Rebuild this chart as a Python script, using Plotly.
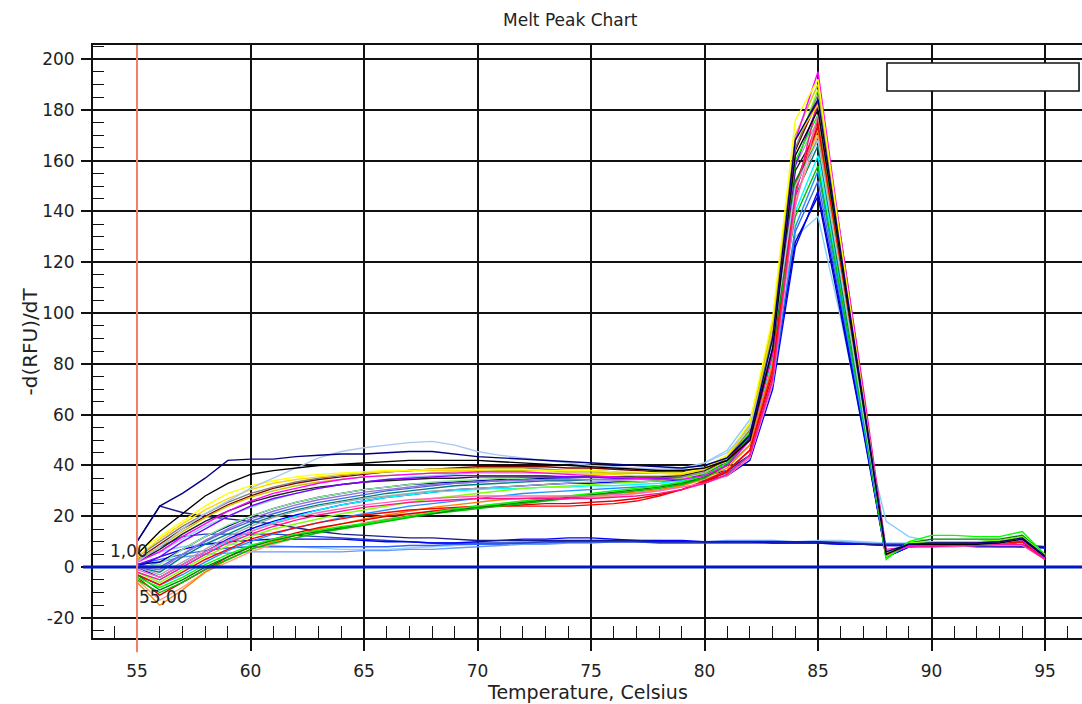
import plotly.graph_objects as go

# Temperatures (Celsius), one reading per degree
temperatures = list(range(55, 96))

# -d(RFU)/dT per well (55..95)
black_top = [5,14,21,28,33,36.5,38,39,40,40.5, 41,41.5,42,42,42,42,41.5,41,40.5,40, 39.5,39,38.5,38,38,39,42,50,86,162, 180,122,64,5,9,9,9,9,9.5,11, 4]
navy_top = [10,24,29,35,42,42.5,42.5,43.5,44,44.5, 44.5,45,45.5,45.5,44.5,43.5,43,42.5,42,41.5, 41,40.5,40,39.5,39,40,43,52,90,168, 184,124,64,6,9,9.5,9.5,9.5,10,11.5, 4.5]
lightblue_arc = [2,8,15,21,26,31,35,39,43,45.5, 47,48,49,49.5,48,45.5,44,43,42,41, 40,39.5,39,38.5,39,41,45,55,88,150, 168,115,60,6,9,9,9,9,9.5,11, 4]
navy_decline = [10,24,21.5,20,19,18,17,15.5,14,13, 12.5,12,11.5,11.5,11,10.5,10.5,10.5,10.5,10.5, 10.5,10.5,10.5,10,10,10,10,10,10,10, 10,9.5,9,8.5,8.5,8.5,8.5,8.5,8.5,8.5, 8]
low_1 = [0,4,7,9,10,10.5,11,11,11,11, 10.5,10,10,9.5,9.5,10,10.5,11,11,11.5, 11.5,11,10.5,10.5,10.5,10,10,10,9.5,9.5, 9.5,9,9,8.5,8.5,8.5,8.5,8,8,8, 7.5]
low_2 = [1,3,5,6.5,7.5,8,8,8,8,8, 8,8,8.5,8.5,9,9,9,9.5,9.5,10, 10,10,10,10,10,10,10,10,10,10, 10,9.5,9,9,9,9,9,8.5,8.5,8.5, 8]
low_3 = [-1,2,4,5,5.5,6,6,6,6,6, 6.5,6.5,7,7,7.5,8,8.5,9,9,9.5, 9.5,10,10,10,10,10,10.5,10.5,10.5,10, 10,10,9.5,9,8.5,8.5,8.5,8.5,8,8, 7.5]
low_4 = [2,8,12,13,13,13,13,12.5,12,11.5, 11,10.5,10,9.5,9.5,9.5,9.5,9.5,10,10, 10,10,10,9.5,9.5,9.5,9.5,9.5,9.5,9.5, 9.5,9,9,9,9,8.5,8.5,8.5,8.5,8, 8]
low_5 = [3,6,8,9,9,9,8.5,8,7.5,7, 7,7,7.5,8,8.5,9,9.5,10,10,10, 10.5,10.5,10.5,10.5,10,10,10,10,10,10, 10.5,10.5,10,9.5,9.5,9,9,9,9,8.5, 8]

well_b01 = [6,12,18,24,29,32,34,35.5,36.5,37, 37.5,38,38,38.5,38.5,38.5,38.5,38.5,38,38, 38,37.5,37.5,37,37,39,44,57,98,176, 192,128,66,5,9,9,9,9,9.5,11, 4.5]
well_b02 = [-4,-8,-4,1,5,8.5,11,13,14.5,16, 17,18.5,20,21.5,23,24,25,26,27,28, 29,30,31,32,33.5,36,41,53,90,160, 178,122,64,3,10,12.5,12.5,12,12,14, 5]
well_b03 = [2,6,12,17,22,26,29,31,33,34.5, 35.5,36,36.5,37,37,37.5,37.5,37.5,37,36.5, 36,35.5,35,34.5,34.5,36,40,50,84,168, 195,130,68,5,8.5,8.5,9,9.5,10,10.5, 3.5]
well_b04 = [-3,-7,-2,3,7,11,13.5,15.5,17.5,19, 20.5,21.5,22.5,23,23.5,24,24,24,24,24, 24.5,25,26,28,30.5,34,38,46,78,150, 176,120,64,5,8.5,8.5,8.5,9,9.5,10, 3]
well_b05 = [0,-4,1,6,11,15,18,20.5,22.5,24.5, 26,27.5,28.5,29.5,30.5,31,31.5,32,32.5,33, 33,33.5,33.5,34,34,34,36,42,70,126, 148,102,54,4,8,8.5,8.5,8.5,9,10, 4]
well_b06 = [-2,-5,0,5,10,14,17.5,20,22.5,24.5, 26,27.5,28.5,29.5,30,30.5,31,31,31.5,31.5, 32,32,32.5,33,34,36,41,50,82,140, 162,110,58,5,9,9,9,9,9.5,10.5, 4]
well_b07 = [4,10,16,21,25.5,29,31.5,33.5,35,36, 37,37.5,38,38.5,38.5,39,39,39,38.5,38, 38,37.5,37,37,37,38.5,43,54,92,165, 186,126,66,5,9,9.5,9.5,9.5,10,11, 4.5]
well_b08 = [-6,-15,-9,-2,3,7,10,12.5,15,17, 19,20.5,22,23.5,24.5,25.5,26.5,27,27.5,28, 28.5,29,29.5,30.5,32,35,39,48,80,150, 172,118,62,5,9,9,9,9.5,10,11, 4.5]
well_b09 = [1,4,10,15,20,24,27,29,31,32.5, 33.5,34.5,35,35.5,36,36,36,36,36,35.5, 35.5,35,35,35,35,37,41,51,86,158, 182,124,65,6,8.5,9,9,9,9.5,11.5, 4]
well_b10 = [-3,-9,-5,0,4,8,10.5,12.5,14,15.5, 17,18.5,20,21,22.5,23.5,24.5,25.5,26.5,27.5, 28.5,29.5,30.5,31.5,33,35.5,40,50,84,152, 168,114,60,4,9.5,11,11,11,11,12.5, 5]
well_b11 = [-1,-4,1,6,10.5,14,17,19.5,21.5,23, 24.5,25.5,26.5,27,27.5,28,28,28,28,28, 28,28.5,29,30,31.5,33,36,43,72,142, 178,126,68,6,8,8,8,8.5,8.5,8.5, 3]
well_b12 = [0,-2,4,9,13,17,20,22.5,24.5,26, 27.5,29,30,31,32,32.5,33,33.5,34,34, 34.5,34.5,35,35,35.5,37,41,51,84,146, 166,112,59,5,9,9,9,9,9.5,10.5, 4]
well_b13 = [3,9,15,20,24.5,28,31,33,34.5,35.5, 36.5,37.5,38,38.5,39,39.5,39.5,39.5,39.5,39, 39,38.5,38,37.5,37.5,38.5,42,52,88,164, 184,126,66,5,9,9,9,9.5,10,11, 4]
well_b14 = [-2,-6,-1,4,8.5,12,15,17,19,21, 22.5,24,25.5,27,28,29,30,31,31.5,32, 32.5,33,33.5,34,35,37,42,54,92,164, 188,130,68,4,9.5,10,10,10,10.5,12, 5]
well_b15 = [2,7,13,18,22,25.5,28,30,31.5,32.5, 33.5,34,34.5,35,35,35.5,35.5,35.5,35.5,35.5, 35.5,35.5,35.5,35.5,36,38,42,52,88,156, 172,118,62,5,9,9.5,9.5,9.5,10,11, 5]
well_b16 = [0,1,7,12,16.5,20,23,25.5,27.5,29, 30.5,31.5,32.5,33.5,34,34.5,35,35,35.5,35.5, 35.5,35.5,35.5,35.5,36,38,43,53,88,152, 170,116,61,5,9,9,9,9,9.5,11, 4.5]
well_b17 = [-5,-13,-8,-2,2,6,9,11.5,13.5,15.5, 17.5,19,20.5,22,23,24,25,26,26.5,27, 27.5,28,29,30,32,34.5,38,46,76,144, 170,118,63,5,8.5,8.5,8.5,9,9.5,10, 4]
well_b18 = [1,0,5,10,14.5,18,21,23.5,25.5,27, 28.5,30,31,32,33,33.5,34,34.5,35,35, 35.5,35.5,36,36,36,36.5,38,44,72,132, 152,104,55,4,8,8.5,8.5,8.5,9,10, 4]
well_b19 = [2,6,11,16,20,23.5,26.5,29,31,32.5, 33.5,34.5,35.5,36,36.5,37,37,37,37,37, 37,37,37,37.5,38.5,41,46,58,90,130, 138,98,55,18,12,10,9.5,9.5,9.5,10, 5]
well_b20 = [0,-1,5,10.5,15,19,22,24.5,26.5,28, 29.5,30.5,31.5,32.5,33,33.5,34,34,34.5,34.5, 34.5,34.5,34.5,35,35.5,37,40,48,80,148, 174,120,63,6,8.5,9,9,9,9.5,11, 4]
well_b21 = [3,8,14,19.5,24,27.5,30,32,33.5,34.5, 35.5,36,36.5,37,37.5,37.5,38,38,38,37.5, 37.5,37,37,37,37,39,44,56,96,170, 190,128,66,5,9,9,9,9.5,10,11, 4]
well_b22 = [-5,-10,-6,-1,3,7,9.5,11.5,13.5,15, 16.5,18,19.5,21,22,23,24,25,26,27, 28,29,30,31,32.5,35,40,52,88,138, 158,108,58,4,9,10,10,10,10.5,12, 5]
well_b23 = [1,2,7,12,16,20,23,25.5,27.5,29, 30.5,31.5,32.5,33,33.5,34,34.5,35,35,35.5, 35.5,35.5,35.5,35.5,35.5,36,38,44,74,128, 146,100,53,4,8,8.5,8.5,8.5,9,10, 4]
well_b24 = [-2,-5,0,5,9.5,13,16,18.5,20.5,22, 23.5,24.5,25.5,26,26.5,27,27,27,27,27, 27,27.5,28,29,30.5,33,36.5,44,74,146, 184,130,70,7,8,8,8.5,8.5,9,9, 3]
well_b25 = [0,-3,2,7,12,16,19.5,22,24,25.5, 27,28,29,30,30.5,31,31.5,32,32.5,33, 33.5,34,34.5,35,35.5,37.5,42,53,90,158, 176,120,63,5,9,9,9,9,9.5,11, 4.5]
well_b26 = [-4,-11,-6,-1,4,8,11,13.5,15.5,17, 18.5,20,21,22,23,23.5,24,24.5,25,25, 25.5,26,27,28.5,30.5,33.5,37.5,46,76,148, 174,120,63,5,8.5,8.5,9,9,9.5,10, 3.5]
well_b27 = [-3,-7,-3,2,6.5,10,13,15.5,17.5,19.5, 21,22.5,24,25,26,27,28,29,29.5,30, 30.5,31,31.5,32,33,34.5,37,44,72,134, 156,106,56,4,8.5,9,9,9,9,10, 4]
well_b28 = [4,11,17,22.5,27,30.5,33,34.5,35.5,36.5, 37,37.5,38,38,38,38,37.5,37.5,37,37, 36.5,36.5,36,36,36.5,38.5,43.5,55,94,168, 182,124,65,5,9,9,9,9.5,10,11, 4.5]

series = [
    (low_5, "#99ccff"), (low_3, "#6699ff"), (low_2, "#3366ff"), (low_4, "#2244cc"), (low_1, "#0000ff"),
    (navy_decline, "#1a1a8c"),
    (well_b19, "#87cefa"), (well_b18, "#4169e1"), (well_b23, "#0000a0"), (well_b05, "#0000ff"),
    (well_b27, "#1e90ff"), (well_b06, "#00ffff"), (well_b12, "#008080"), (well_b25, "#a9a9a9"),
    (well_b20, "#9370db"), (well_b16, "#90ee90"), (well_b15, "#202020"), (well_b09, "#8000ff"),
    (well_b17, "#ffa07a"), (well_b08, "#ff8000"), (well_b26, "#e00000"), (well_b04, "#ff0000"),
    (well_b22, "#00c000"), (well_b10, "#008000"), (well_b14, "#80ff00"), (well_b02, "#00ff00"),
    (well_b11, "#ff69b4"), (well_b24, "#ff1493"), (well_b13, "#800000"), (well_b07, "#808080"),
    (well_b28, "#ffd700"), (well_b21, "#c8c800"), (well_b03, "#ff00ff"), (well_b01, "#ffff00"),
    (lightblue_arc, "#a8c8f0"), (black_top, "#000000"), (navy_top, "#000080"),
]

x_ticks = [55, 60, 65, 70, 75, 80, 85, 90, 95]
y_ticks = [-20, 0, 20, 40, 60, 80, 100, 120, 140, 160, 180, 200]
x_range = [53.06, 96.63]
y_range = [-27.9, 205.5]

fig = go.Figure()
for vals, col in series:
    assert len(vals) == len(temperatures)
    fig.add_trace(go.Scatter(x=temperatures, y=vals, mode="lines",
                             line=dict(color=col, width=1.4), hoverinfo="skip",
                             showlegend=False))
# invisible trace so that the overlay axes (minor inside ticks) are drawn
fig.add_trace(go.Scatter(x=temperatures, y=low_1, mode="lines", xaxis="x2", yaxis="y2",
                         line=dict(color="rgba(0,0,0,0)", width=0), hoverinfo="skip",
                         showlegend=False))

FONT = "DejaVu Sans"
INK = "#111111"
fig.update_layout(
    width=1082, height=704,
    margin=dict(l=93, r=0, t=45, b=66),
    paper_bgcolor="white", plot_bgcolor="white",
    showlegend=False,
    font=dict(family=FONT, color="#222222"),
    xaxis=dict(
        range=x_range, tickvals=x_ticks, ticktext=[str(v) for v in x_ticks],
        showgrid=True, gridcolor=INK, gridwidth=1.6,
        showline=True, linecolor=INK, linewidth=2, mirror=True,
        ticks="outside", ticklen=11, tickwidth=1.6, tickcolor=INK,
        tickfont=dict(size=17, family=FONT, color="#222222"),
        ticklabelstandoff=6, zeroline=False,
    ),
    yaxis=dict(
        range=y_range, tickvals=y_ticks, ticktext=[str(v) for v in y_ticks],
        showgrid=True, gridcolor=INK, gridwidth=1.6,
        showline=True, linecolor=INK, linewidth=2,
        ticks="outside", ticklen=10, tickwidth=1.6, tickcolor=INK,
        tickfont=dict(size=17, family=FONT, color="#222222"),
        ticklabelstandoff=3, zeroline=False,
    ),
    xaxis2=dict(
        overlaying="x", anchor="y", side="bottom", range=x_range,
        tick0=55, dtick=1, ticks="inside", ticklen=12, tickwidth=1.3, tickcolor=INK,
        showticklabels=False, showgrid=False, showline=False, zeroline=False,
    ),
    yaxis2=dict(
        overlaying="y", anchor="x", side="left", range=y_range,
        tick0=0, dtick=5, ticks="inside", ticklen=11, tickwidth=1.3, tickcolor=INK,
        showticklabels=False, showgrid=False, showline=False, zeroline=False,
    ),
)

# zero baseline and cursor line
fig.add_shape(type="line", xref="paper", yref="y", x0=-0.0101, x1=1, y0=0, y1=0,
              line=dict(color="#0018c0", width=3), layer="above")
fig.add_shape(type="line", xref="x", yref="paper", x0=55, x1=55, y0=-0.024, y1=1,
              line=dict(color="#f4846c", width=2), layer="above")
# empty legend box
fig.add_shape(type="rect", xref="paper", yref="paper", x0=0.8028, x1=0.997, y0=0.9224, y1=0.9696,
              line=dict(color=INK, width=1.6), fillcolor="white", layer="above")

annotations = [
    dict(text="Melt Peak Chart", xref="paper", yref="paper", x=0.4833, y=1.0422,
         showarrow=False, font=dict(size=17, family=FONT, color="#222222"), xanchor="center", yanchor="middle"),
    dict(text="Temperature, Celsius", xref="paper", yref="paper", x=0.5, y=-0.091,
         showarrow=False, font=dict(size=19, family=FONT, color="#222222"), xanchor="center", yanchor="middle"),
    dict(text="-d(RFU)/dT", xref="paper", yref="paper", x=-0.0647, y=0.5, textangle=-90,
         showarrow=False, font=dict(size=20, family=FONT, color="#222222"), xanchor="center", yanchor="middle"),
    dict(text="1,00", xref="x", yref="y", x=53.72, y=6.3, showarrow=False,
         font=dict(size=17, family=FONT, color="#222222"), xanchor="left", yanchor="middle"),
    dict(text="55,00", xref="x", yref="y", x=55.0, y=-11.8, showarrow=False,
         font=dict(size=17, family=FONT, color="#222222"), xanchor="left", yanchor="middle"),
]
fig.update_layout(annotations=annotations)

fig.write_html("out.html")
